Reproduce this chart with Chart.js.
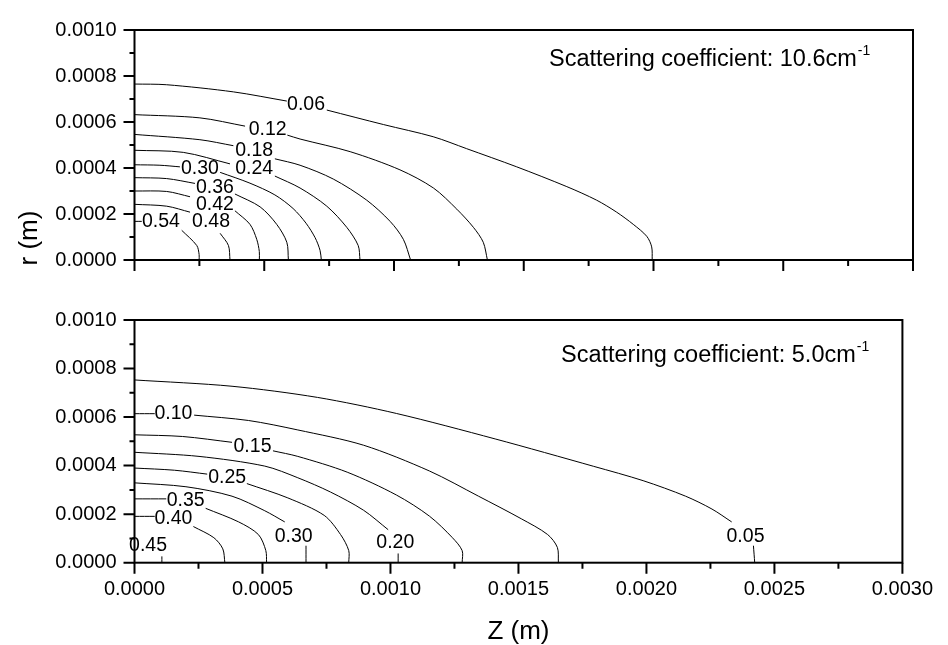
<!DOCTYPE html>
<html>
<head>
<meta charset="utf-8">
<script src="https://cdn.jsdelivr.net/npm/chart.js@4.4.1/dist/chart.umd.min.js"></script>
<style>
  body { margin: 0; background: #fff; }
  #wrap { position: relative; width: 948px; height: 645px; }
  canvas { position: absolute; left: 0; }
  #topChart { top: 0; }
  #bottomChart { top: 290px; }
</style>
</head>
<body>
<div id="wrap">
  <canvas id="topChart" width="948" height="290"></canvas>
  <canvas id="bottomChart" width="948" height="355"></canvas>
</div>
<script>
// axis ranges (m)
const zMax = 0.003;
const rMax = 0.001;

// top panel: scattering coefficient 10.6 cm-1, contour points [z, r], null = gap for the label
const topLevels = ['0.06', '0.12', '0.18', '0.24', '0.30', '0.36', '0.42', '0.48', '0.54'];
const topContours = [
  [[0, 0.000765], [0.000124, 0.000762], [0.000381, 0.000731], [0.000587, 0.000691], null,
   [0.000741, 0.000652], [0.000959, 0.000589], [0.001151, 0.000536], [0.001280, 0.000484],
   [0.001473, 0.000405], [0.001666, 0.000319], [0.001781, 0.000260], [0.001858, 0.000208],
   [0.001922, 0.000155], [0.001974, 0.000103], [0.001993, 0.000057], [0.001995, 0]],
  [[0, 0.000632], [0.000252, 0.000618], [0.000426, 0.000582], null,
   [0.000589, 0.000543], [0.000638, 0.000526], [0.000831, 0.000471], [0.001023, 0.000392],
   [0.001152, 0.000313], [0.001242, 0.000221], [0.001306, 0.000142], [0.001344, 0.000077], [0.001360, 0]],
  [[0, 0.000546], [0.000252, 0.000523], [0.000381, 0.000497], null,
   [0.000541, 0.000440], [0.000638, 0.000412], [0.000766, 0.000352], [0.000895, 0.000260],
   [0.000985, 0.000168], [0.001036, 0.000090], [0.001064, 0]],
  [[0, 0.000477], [0.000188, 0.000468], [0.000368, 0.000418], null,
   [0.000541, 0.000365], [0.000638, 0.000313], [0.000741, 0.000234], [0.000818, 0.000142],
   [0.000862, 0.000063], [0.000869, 0]],
  [[0, 0.000414], [0.000098, 0.000412], [0.000175, 0.000405], null,
   [0.000330, 0.000381], [0.000445, 0.000334], [0.000541, 0.000283], [0.000611, 0.000224],
   [0.000661, 0.000160], [0.000696, 0.000097], [0.000715, 0.000042], [0.000720, 0]],
  [[0, 0.000358], [0.000124, 0.000354], [0.000233, 0.000333], null,
   [0.000387, 0.000287], [0.000484, 0.000231], [0.000548, 0.000155], [0.000587, 0.000077], [0.000593, 0]],
  [[0, 0.000300], [0.000124, 0.000298], [0.000214, 0.000275], null,
   [0.000387, 0.000214], [0.000445, 0.000155], [0.000471, 0.000090], [0.000481, 0.000037], [0.000481, 0]],
  [[0, 0.000242], [0.000124, 0.000234], [0.000214, 0.000208], null,
   [0.000330, 0.000116], [0.000362, 0.000063], [0.000368, 0]],
  [[0, 0.000168], [0.000028, 0.000168], null,
   [0.000182, 0.000129], [0.000240, 0.000063], [0.000249, 0.000024], [0.000249, 0]]
];
const topLabelAt = [
  [0.000661, 0.000674], [0.000513, 0.000566], [0.000461, 0.000477], [0.000461, 0.000396],
  [0.000252, 0.000396], [0.000310, 0.000313], [0.000310, 0.000240], [0.000295, 0.000168],
  [0.000102, 0.000168]
];

// bottom panel: scattering coefficient 5.0 cm-1
const bottomLevels = ['0.05', '0.10', '0.15', '0.20', '0.25', '0.30', '0.35', '0.40', '0.45'];
const bottomContours = [
  [[0, 0.000753], [0.000381, 0.000727], [0.000715, 0.000681], [0.001023, 0.000615],
   [0.001409, 0.000510], [0.001794, 0.000397], [0.001987, 0.000338], [0.002153, 0.000274],
   [0.002256, 0.000221], [0.002333, 0.000168], null, [0.002418, 0.000070], [0.002423, 0]],
  [[0, 0.000614], [0.000079, 0.000614], null,
   [0.000233, 0.000608], [0.000445, 0.000586], [0.000638, 0.000547], [0.000895, 0.000484],
   [0.001152, 0.000378], [0.001344, 0.000274], [0.001511, 0.000181], [0.001614, 0.000116],
   [0.001652, 0.000063], [0.001656, 0]],
  [[0, 0.000527], [0.000188, 0.000520], [0.000381, 0.000496], null,
   [0.000541, 0.000461], [0.000638, 0.000438], [0.000831, 0.000373], [0.001023, 0.000279],
   [0.001152, 0.000192], [0.001242, 0.000103], [0.001280, 0.000050], [0.001280, 0]],
  [[0, 0.000455], [0.000252, 0.000438], [0.000509, 0.000398], [0.000638, 0.000350],
   [0.000766, 0.000291], [0.000895, 0.000216], [0.000991, 0.000136], null,
   [0.001030, 0.000038], [0.001030, 0]],
  [[0, 0.000390], [0.000156, 0.000381], [0.000284, 0.000365], null,
   [0.000439, 0.000326], [0.000599, 0.000267], [0.000741, 0.000195], [0.000805, 0.000116],
   [0.000837, 0.000050], [0.000837, 0]],
  [[0, 0.000329], [0.000201, 0.000313], [0.000381, 0.000274], [0.000509, 0.000214],
   [0.000587, 0.000168], null, [0.000670, 0.000070], [0.000670, 0]],
  [[0, 0.000263], [0.000124, 0.000263], null,
   [0.000278, 0.000224], [0.000407, 0.000168], [0.000484, 0.000116], [0.000513, 0.000050], [0.000516, 0]],
  [[0, 0.000191], [0.000079, 0.000191], null,
   [0.000230, 0.000149], [0.000310, 0.000103], [0.000345, 0.000057], [0.000353, 0]],
  [[0.000107, 0.000026], [0.000107, 0]]
];
const bottomLabelAt = [
  [0.002387, 0.000109], [0.000152, 0.000614], [0.000461, 0.000480], [0.001019, 0.000083],
  [0.000362, 0.000352], [0.000622, 0.000109], [0.000200, 0.000254], [0.000152, 0.000181],
  [0.000053, 0.000070]
];

const FONT = '"Liberation Sans", Arial, sans-serif';

function toDatasets(contours) {
  return contours.map(function(pts) {
    let last = 0;
    const data = pts.map(function(p) {
      if (!p) return { x: last, y: null };
      last = p[0];
      return { x: p[0], y: p[1] };
    });
    return {
      data: data,
      borderColor: '#000',
      borderWidth: 1,
      pointRadius: 0,
      tension: 0.3,
      spanGaps: false,
      fill: false
    };
  });
}

// frame, minor/major tick marks, contour labels and texts
const framePlugin = {
  id: 'frame',
  afterDraw(chart, args, opts) {
    const ctx = chart.ctx;
    const a = chart.chartArea;
    const sx = chart.scales.x, sy = chart.scales.y;
    ctx.save();
    ctx.strokeStyle = '#000';
    ctx.lineWidth = 2;
    ctx.strokeRect(a.left, a.top, a.right - a.left, a.bottom - a.top);
    ctx.beginPath();
    for (let i = 0; i <= 10; i++) {
      const y = sy.getPixelForValue(i * rMax / 10);
      const len = i % 2 ? 5 : 11;
      ctx.moveTo(a.left - len, y);
      ctx.lineTo(a.left, y);
    }
    for (let i = 0; i <= 12; i++) {
      const x = sx.getPixelForValue(i * zMax / 12);
      const len = i % 2 ? 6 : 11;
      ctx.moveTo(x, a.bottom);
      ctx.lineTo(x, a.bottom + len);
    }
    ctx.stroke();

    ctx.fillStyle = '#000';
    ctx.font = '19.5px ' + FONT;
    ctx.textAlign = 'center';
    ctx.textBaseline = 'middle';
    opts.levels.forEach(function(txt, i) {
      const p = opts.labelAt[i];
      ctx.fillText(txt, sx.getPixelForValue(p[0]), sy.getPixelForValue(p[1]));
    });

    ctx.textAlign = 'left';
    ctx.textBaseline = 'alphabetic';
    ctx.font = '23.5px ' + FONT;
    ctx.fillText(opts.note, opts.noteX, opts.noteY);
    const w = ctx.measureText(opts.note).width;
    ctx.font = '14px ' + FONT;
    ctx.fillText('-1', opts.noteX + w + 1, opts.noteY - 11);

    ctx.font = '26px ' + FONT;
    if (opts.yTitle) {
      ctx.save();
      ctx.translate(36.5, 238);
      ctx.rotate(-Math.PI / 2);
      ctx.textAlign = 'center';
      ctx.fillText(opts.yTitle, 0, 0);
      ctx.restore();
    }
    if (opts.xTitle) {
      ctx.textAlign = 'center';
      ctx.fillText(opts.xTitle, (a.left + a.right) / 2, 349);
    }
    ctx.restore();
  }
};

function makeChart(id, contours, levels, labelAt, showX, xHeight, extra) {
  return new Chart(document.getElementById(id), {
    type: 'line',
    data: { datasets: toDatasets(contours) },
    options: {
      responsive: false,
      animation: false,
      devicePixelRatio: 1,
      layout: { padding: { top: 19, right: 35, left: 0, bottom: 0 } },
      scales: {
        x: {
          type: 'linear',
          min: 0,
          max: zMax,
          grid: { display: false, drawTicks: false },
          border: { display: false },
          ticks: {
            display: showX,
            stepSize: 0.0005,
            padding: 15,
            autoSkip: false,
            maxRotation: 0,
            color: '#000',
            font: { family: FONT, size: 20 },
            callback: function(v) { return Number(v).toFixed(4); }
          },
          afterFit: function(s) { s.height = xHeight; }
        },
        y: {
          type: 'linear',
          min: 0,
          max: rMax,
          grid: { display: false, drawTicks: false },
          border: { display: false },
          ticks: {
            stepSize: 0.0002,
            padding: 18,
            color: '#000',
            font: { family: FONT, size: 20 },
            callback: function(v) { return Number(v).toFixed(4); }
          },
          afterFit: function(s) { s.width = 134.5; }
        }
      },
      plugins: {
        legend: { display: false },
        tooltip: { enabled: false },
        frame: Object.assign({ levels: levels, labelAt: labelAt }, extra)
      }
    },
    plugins: [framePlugin]
  });
}

makeChart('topChart', topContours, topLevels, topLabelAt, false, 17.3, {
  note: 'Scattering coefficient: 10.6cm', noteX: 549, noteY: 65.7, yTitle: 'r (m)'
});
makeChart('bottomChart', bottomContours, bottomLevels, bottomLabelAt, true, 82.3, {
  note: 'Scattering coefficient: 5.0cm', noteX: 561, noteY: 71.7, xTitle: 'Z (m)'
});
</script>
</body>
</html>
